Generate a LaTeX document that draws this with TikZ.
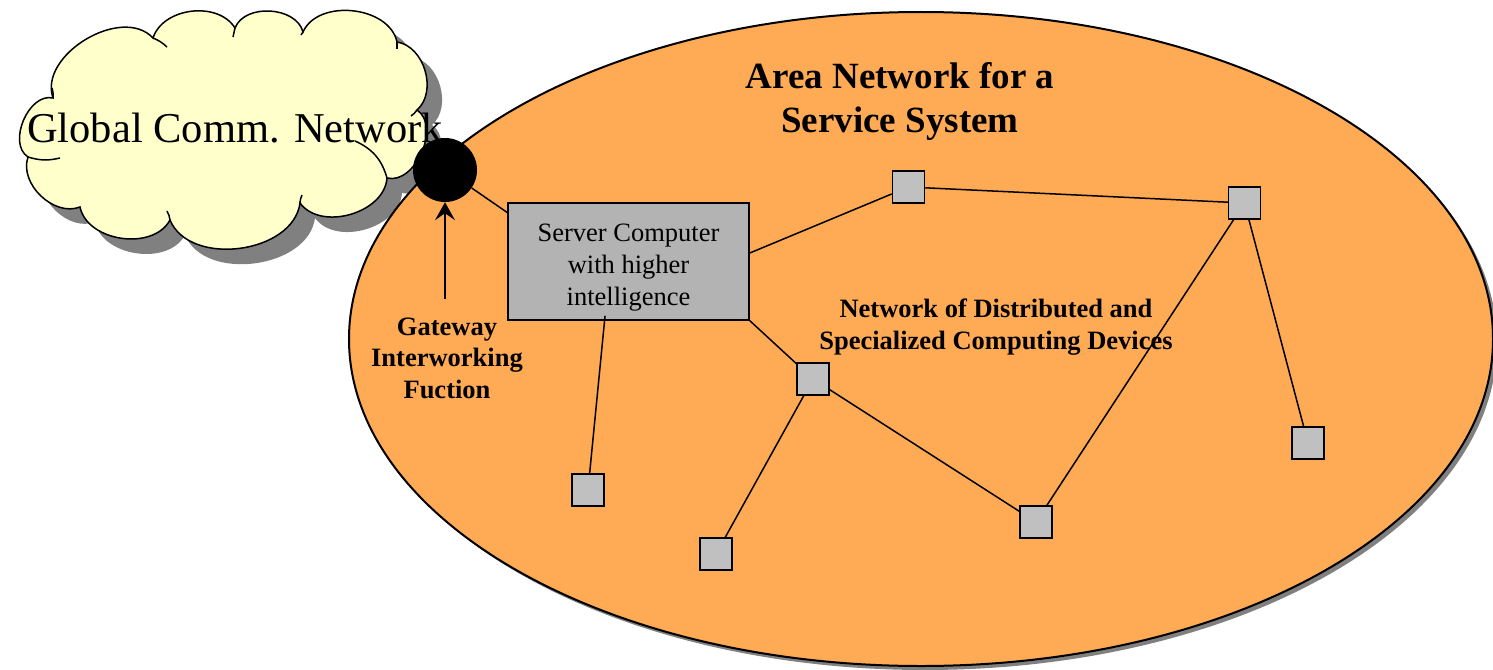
\documentclass[tikz,border=0pt]{standalone}
\usepackage{fontspec}
\setmainfont{Liberation Serif}
\usetikzlibrary{arrows.meta}
\definecolor{areaorange}{RGB}{255,170,85}
\definecolor{cloudyellow}{RGB}{255,255,204}
\definecolor{servergray}{RGB}{179,179,179}
\definecolor{devgray}{RGB}{192,192,192}
\definecolor{shadowgray}{RGB}{128,128,128}
\tikzset{
  device/.style={draw=black, line width=1.5pt, fill=devgray, minimum size=32pt, inner sep=0pt},
  serverbox/.style={draw=black, line width=1.5pt, fill=servergray, minimum width=241pt, minimum height=117pt, inner sep=0pt, align=center, font=\fontsize{26.5}{32}\selectfont},
  gatewaydot/.style={circle, fill=black, minimum size=64pt, inner sep=0pt},
  link/.style={draw=black, line width=1.5pt},
  boldlabel/.style={align=center, font=\fontsize{26.5}{31.5}\selectfont\bfseries, inner sep=0pt},
  lobe/.style={bend left=65},
  biglobe/.style={bend left=80},
  hook/.style={draw=black, line width=1.5pt}
}
\begin{document}
\begin{tikzpicture}[x=1pt,y=-1pt]
\useasboundingbox (0,0) rectangle (1493,669);
% cloud shadow and cloud
\def\cloudpath{(53,98) to[bend left=78] (153,38) to[lobe] (235,28) to[bend left=72] (303,32) to[bend left=72] (397,42) to[lobe] (417,110) to[biglobe] (387,178) to[bend left=70] (300,203) to[bend left=75] (170,220) to[bend left=70] (80,207) to[lobe] (28,157) to[biglobe] cycle}
\fill[shadowgray, shift={(15,15)}] \cloudpath;
\draw[line width=1.5pt, fill=cloudyellow] \cloudpath;
% notch hooks of the cloud
\draw[hook] (153,38) to[bend left=10] (167,47);
\draw[hook] (235,28) -- (233,37);
\draw[hook] (303,32) -- (301,35);
\draw[hook] (397,42) to[bend left=10] (397,49);
\draw[hook] (417,110) to[bend left=10] (411,116);
\draw[hook] (387,178) to[bend right=25] (355,141);
\draw[hook] (300,203) to[bend left=10] (302,195);
\draw[hook] (170,220) to[bend right=10] (167,211);
\draw[hook] (28,157) to[bend right=15] (60,158);
\draw[hook] (53,98) to[bend right=10] (52,88);
% area ellipse with shadow
\fill[shadowgray] (925,343) ellipse[x radius=572, y radius=327];
\draw[line width=2pt, fill=areaorange] (921,339) ellipse[x radius=572, y radius=327];
\node[font=\fontsize{42.5}{50}\selectfont, inner sep=0pt] (gtext) at (235,128) {Global Comm. Network};
\node[align=center, font=\fontsize{37}{44}\selectfont\bfseries, inner sep=0pt] (atext) at (900,101) {Area Network for a\\Service System};
% nodes
\node[gatewaydot] (gw) at (445,170) {};
\node[serverbox] (server) at (628.5,261.5) {\rule{0pt}{30pt}Server Computer\\with higher\\intelligence};
\node[device] (s1) at (908.5,187) {};
\node[device] (s2) at (1244.5,203) {};
\node[device] (s3) at (813,379) {};
\node[device] (s4) at (1308,443) {};
\node[device] (s5) at (588,490) {};
\node[device] (s6) at (716,554) {};
\node[device] (s7) at (1036,522) {};
\node[boldlabel] (gwtext) at (447,358) {Gateway\\Interworking\\Fuction};
\node[boldlabel, font=\fontsize{26.5}{32}\selectfont\bfseries] (ntext) at (996,327) {Network of Distributed and\\Specialized Computing Devices};
\coordinate (arrowstart) at (445,299);
% connectors
\draw[link, -{Stealth[length=18pt, width=20pt, inset=7pt]}] (arrowstart) -- (gw);
\draw[link] (gw.-34) -- (server.158);
\draw[link] (server.4.5) -- (s1);
\draw[link] (s1) -- (s2);
\draw[link] (s2) -- (s4);
\draw[link] (s2) -- (s7);
\draw[link] (server.-26.7) -- (s3);
\draw[link] (s3) -- (s7);
\draw[link] (s3) -- (s6);
\draw[link, shorten <=-5pt] (server.-112) -- (s5);
\end{tikzpicture}
\end{document}
